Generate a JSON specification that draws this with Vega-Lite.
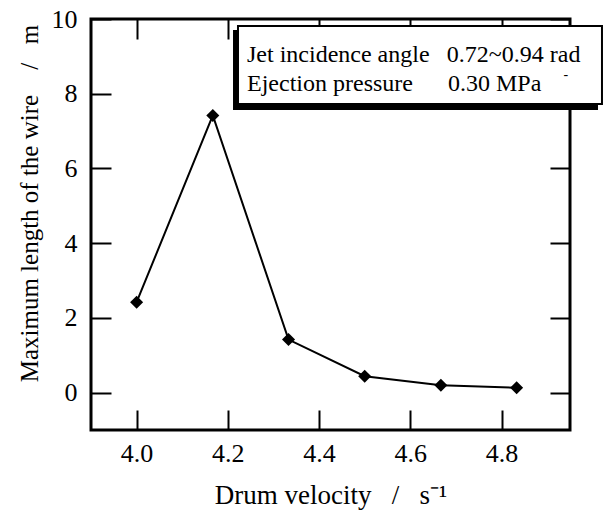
{
  "$schema": "https://vega.github.io/schema/vega-lite/v6.json",
  "width": 479,
  "height": 411,
  "autosize": "none",
  "padding": {"left": 91, "top": 19, "right": 36, "bottom": 80},
  "background": "white",
  "config": {
    "view": {"stroke": "black", "strokeWidth": 3},
    "font": "Liberation Serif",
    "axis": {
      "grid": false,
      "domain": false,
      "ticks": true,
      "tickColor": "black",
      "tickWidth": 2,
      "tickSize": -20,
      "labelFont": "Liberation Serif",
      "labelFontSize": 26,
      "labelColor": "black",
      "titleFont": "Liberation Serif",
      "titleFontSize": 25,
      "titleFontWeight": "normal",
      "titleColor": "black"
    }
  },
  "datasets": {
    "main": [
      {"v": 4.0, "len": 2.42},
      {"v": 4.167, "len": 7.42},
      {"v": 4.333, "len": 1.42},
      {"v": 4.5, "len": 0.44},
      {"v": 4.667, "len": 0.2},
      {"v": 4.833, "len": 0.13}
    ],
    "shadow": [{"x1": 4.2113, "x2": 5.0114, "y1": 9.706, "y2": 7.5645}],
    "box": [{"x1": 4.2222, "x2": 5.0201, "y1": 9.8127, "y2": 7.725}],
    "notes": [
      {"x": 4.242, "y": 8.85, "text": "Jet incidence angle"},
      {"x": 4.680, "y": 8.85, "text": "0.72~0.94 rad"},
      {"x": 4.242, "y": 8.07, "text": "Ejection pressure"},
      {"x": 4.6826, "y": 8.07, "text": "0.30 MPa"}
    ],
    "dash": [{"x": 4.941, "y": 8.5, "text": "-"}]
  },
  "resolve": {"axis": {"x": "independent", "y": "independent"}},
  "layer": [
    {
      "data": {"name": "shadow"},
      "mark": {"type": "rect", "color": "black"},
      "encoding": {
        "x": {"field": "x1", "type": "quantitative", "scale": {"domain": [3.9, 4.95], "nice": false, "zero": false},
              "axis": {"orient": "top", "values": [4, 4.2, 4.4, 4.6, 4.8], "labels": false, "title": null}},
        "x2": {"field": "x2"},
        "y": {"field": "y1", "type": "quantitative", "scale": {"domain": [-1, 10], "nice": false, "zero": false},
              "axis": {"orient": "right", "values": [0, 2, 4, 6, 8, 10], "labels": false, "title": null}},
        "y2": {"field": "y2"}
      }
    },
    {
      "data": {"name": "box"},
      "mark": {"type": "rect", "fill": "white", "stroke": "black", "strokeWidth": 2},
      "encoding": {
        "x": {"field": "x1", "type": "quantitative", "axis": null},
        "x2": {"field": "x2"},
        "y": {"field": "y1", "type": "quantitative", "axis": null},
        "y2": {"field": "y2"}
      }
    },
    {
      "data": {"name": "notes"},
      "mark": {"type": "text", "align": "left", "baseline": "alphabetic", "font": "Liberation Serif", "fontSize": 24, "color": "black"},
      "encoding": {
        "x": {"field": "x", "type": "quantitative", "axis": null},
        "y": {"field": "y", "type": "quantitative", "axis": null},
        "text": {"field": "text"}
      }
    },
    {
      "data": {"name": "dash"},
      "mark": {"type": "text", "align": "center", "baseline": "middle", "font": "Liberation Serif", "fontSize": 14, "color": "black"},
      "encoding": {
        "x": {"field": "x", "type": "quantitative", "axis": null},
        "y": {"field": "y", "type": "quantitative", "axis": null},
        "text": {"field": "text"}
      }
    },
    {
      "data": {"name": "main"},
      "mark": {"type": "line", "color": "black", "strokeWidth": 2,
               "point": {"filled": true, "shape": "diamond", "size": 170, "color": "black", "opacity": 1}},
      "encoding": {
        "x": {"field": "v", "type": "quantitative",
              "axis": {"orient": "bottom", "values": [4, 4.2, 4.4, 4.6, 4.8], "format": ".1f",
                       "labelFont": "Liberation Serif",
                       "title": "Drum velocity\u00a0\u00a0\u00a0/\u00a0\u00a0\u00a0s\u207b\u00b9", "labelPadding": 30,
                       "titleFontSize": 27, "titleBaseline": "alphabetic", "titleY": 73}},
        "y": {"field": "len", "type": "quantitative",
              "axis": {"orient": "left", "values": [0, 2, 4, 6, 8, 10], "format": "d",
                       "labelFont": "Liberation Serif",
                       "title": "Maximum length of the wire\u00a0\u00a0\u00a0\u00a0/\u00a0\u00a0\u00a0m", "labelPadding": 34,
                       "titleFontSize": 25, "titleBaseline": "alphabetic", "titleX": -54, "titleY": 184}}
      }
    }
  ]
}
